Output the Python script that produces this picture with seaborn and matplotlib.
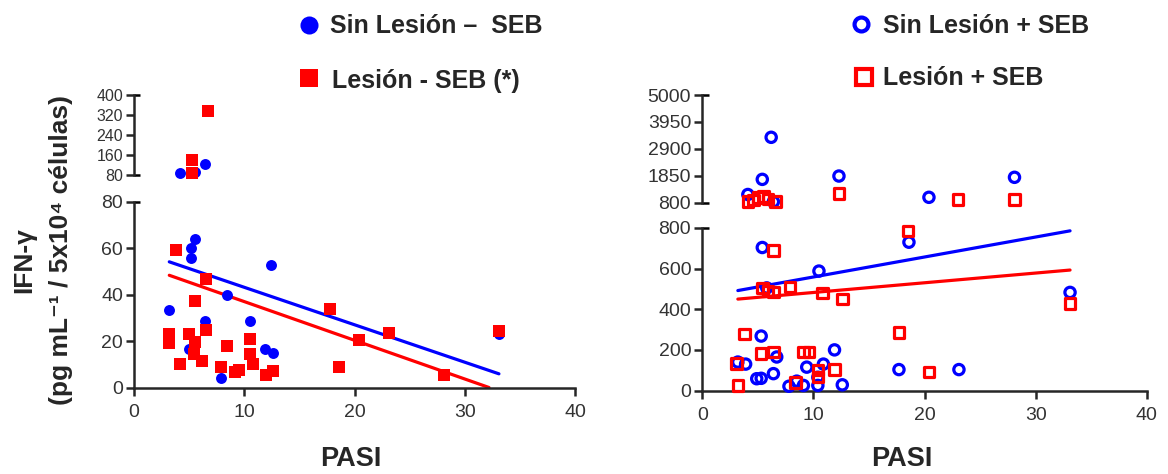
import matplotlib
matplotlib.use("Agg")
import matplotlib.pyplot as plt
import seaborn as sns
from matplotlib.lines import Line2D

# Sin Lesion - SEB (filled blue circles), left panel
left_blue_low_x = [3.2, 5.5, 5.2, 5.2, 12.4, 8.4, 6.4, 10.5, 5.0, 11.9, 12.6, 7.9, 33.1, 9.3]
left_blue_low_y = [33.5, 64, 60, 56, 53, 40, 28.5, 28.5, 16.5, 16.5, 15, 4, 23, 7]
left_blue_up_x = [4.2, 6.4, 5.5]
left_blue_up_y = [89, 126, 92]

# Lesion - SEB (filled red squares), left panel
left_red_low_x = [3.8, 6.5, 5.5, 17.8, 3.2, 3.2, 3.2, 5.0, 5.5, 5.4, 6.5, 4.2, 6.2, 7.9,
                  8.4, 9.2, 9.5, 10.5, 10.5, 10.8, 12.0, 12.6, 18.6, 20.4, 23.1, 28.1, 33.1]
left_red_low_y = [59.5, 47, 37.5, 34, 23, 21, 19, 23, 19.5, 14.5, 25, 10, 11.5, 9,
                  18, 6.5, 7.5, 21, 14.5, 10, 5.5, 7, 9, 20.5, 23.5, 5.5, 24.5]
left_red_up_x = [6.7, 5.3, 5.3]
left_red_up_y = [337, 139, 87]

# Sin Lesion + SEB (open blue circles), right panel
right_blue_low_x = [5.4, 10.5, 18.6, 33.1, 5.8, 5.3, 3.2, 3.9, 6.7, 4.9, 5.3, 6.4, 7.8, 8.5,
                    9.4, 9.1, 10.4, 10.9, 11.9, 12.6, 17.7, 23.1, 10.4]
right_blue_low_y = [704, 588, 730, 483, 505, 268, 140, 130, 165, 58, 60, 83, 21, 46,
                    115, 25, 25, 130, 200, 28, 103, 103, 65]
right_blue_up_x = [6.2, 5.4, 12.3, 28.1, 20.4, 4.1, 6.4]
right_blue_up_y = [3350, 1710, 1840, 1790, 1010, 1120, 840]

# Lesion + SEB (open red squares), right panel
right_red_low_x = [18.5, 6.4, 5.4, 5.9, 6.4, 7.9, 10.8, 12.6, 33.1, 3.8, 17.7, 3.1, 3.2, 5.3,
                   6.4, 8.4, 9.1, 9.6, 10.4, 10.4, 11.9, 20.4]
right_red_low_y = [785, 688, 505, 490, 485, 510, 480, 450, 428, 278, 285, 133, 25, 182,
                   190, 40, 190, 190, 100, 66, 104, 91]
right_red_up_x = [12.3, 23.0, 28.1, 4.1, 4.6, 5.0, 5.5, 5.9, 6.6]
right_red_up_y = [1170, 935, 935, 850, 900, 1000, 1050, 950, 850]

# regression lines (end points)
left_blue_fit_x = [3.2, 33.1]
left_blue_fit_y = [54.2, 5.9]
left_red_fit_x = [3.2, 32.2]
left_red_fit_y = [48.4, 0.0]
right_blue_fit_x = [3.2, 33.1]
right_blue_fit_y = [492, 786]
right_red_fit_x = [3.2, 33.1]
right_red_fit_y = [450, 593]

x_ticks = [0, 10, 20, 30, 40]
left_low_ticks = [0, 20, 40, 60, 80]
left_up_ticks = [80, 160, 240, 320, 400]
right_low_ticks = [0, 200, 400, 600, 800]
right_up_ticks = [800, 1850, 2900, 3950, 5000]

BLUE = "#0000ff"
RED = "#ff0000"
LW = 1.8

sns.set_style("ticks")
plt.rcParams["font.family"] = ["Liberation Sans", "DejaVu Sans"]

fig = plt.figure(figsize=(11.68, 4.74), dpi=100)
W, H = 1168.0, 474.0


def add_ax(left, bottom, right, top):
    return fig.add_axes([left / W, 1 - bottom / H, (right - left) / W, (bottom - top) / H])


def style_ax(ax, ylim, yticks, upper, label_size):
    ax.set_xlim(0, 40)
    ax.set_ylim(*ylim)
    ax.set_yticks(yticks)
    ax.set_yticklabels([str(t) for t in yticks])
    for s in ["top", "right"]:
        ax.spines[s].set_visible(False)
    ax.spines["left"].set_linewidth(LW)
    ax.spines["bottom"].set_linewidth(LW)
    ax.tick_params(axis="y", length=6, width=LW, pad=2, labelsize=label_size,
                   labelcolor="#333333", direction="out")
    if upper:
        ax.spines["bottom"].set_visible(False)
        ax.set_xticks([])
        ends = [0, 1]
    else:
        ax.set_xticks(x_ticks)
        ax.tick_params(axis="x", length=6, width=LW, pad=6, labelsize=14,
                       labelcolor="#333333", direction="out")
        ends = [1]
    # little caps at the broken ends of the y axis
    for e in ends:
        ax.plot([0, 0.014], [e, e], transform=ax.transAxes, color="black",
                lw=LW, clip_on=False, solid_capstyle="butt")
    ax.set_xlabel("")
    ax.set_ylabel("")
    ax.set_facecolor("none")


# ---- left panel ----
ax_ll = add_ax(134, 387.5, 575, 202)
ax_lu = add_ax(134, 175, 575, 95)

sns.lineplot(x=left_blue_fit_x, y=left_blue_fit_y, ax=ax_ll, color=BLUE, lw=2.3, zorder=1)
sns.lineplot(x=left_red_fit_x, y=left_red_fit_y, ax=ax_ll, color=RED, lw=2.3, zorder=1)
for ax, bx, by, rx, ry in [(ax_ll, left_blue_low_x, left_blue_low_y, left_red_low_x, left_red_low_y),
                           (ax_lu, left_blue_up_x, left_blue_up_y, left_red_up_x, left_red_up_y)]:
    sns.scatterplot(x=bx, y=by, ax=ax, marker="o", color=BLUE, s=62, linewidth=0,
                    clip_on=False, zorder=3)
    sns.scatterplot(x=rx, y=ry, ax=ax, marker="s", color=RED, s=75, linewidth=0,
                    clip_on=False, zorder=4)

style_ax(ax_ll, (0, 80), left_low_ticks, False, 14)
style_ax(ax_lu, (80, 400), left_up_ticks, True, 11.5)

# ---- right panel ----
ax_rl = add_ax(702.3, 390.5, 1146.7, 228)
ax_ru = add_ax(702.3, 202.7, 1146.7, 95)

sns.lineplot(x=right_blue_fit_x, y=right_blue_fit_y, ax=ax_rl, color=BLUE, lw=2.3, zorder=1)
sns.lineplot(x=right_red_fit_x, y=right_red_fit_y, ax=ax_rl, color=RED, lw=2.3, zorder=1)
for ax, bx, by, rx, ry in [(ax_rl, right_blue_low_x, right_blue_low_y, right_red_low_x, right_red_low_y),
                           (ax_ru, right_blue_up_x, right_blue_up_y, right_red_up_x, right_red_up_y)]:
    sns.scatterplot(x=bx, y=by, ax=ax, marker="o", facecolor="none", edgecolor=BLUE,
                    s=55, linewidth=2.3, clip_on=False, zorder=3)
    sns.scatterplot(x=rx, y=ry, ax=ax, marker="s", facecolor="none", edgecolor=RED,
                    s=58, linewidth=2.3, clip_on=False, zorder=4)

style_ax(ax_rl, (0, 800), right_low_ticks, False, 14)
style_ax(ax_ru, (800, 5000), right_up_ticks, True, 14)

# ---- axis titles ----
fig.text(351 / W, 1 - 466 / H, "PASI", ha="center", va="baseline", fontsize=19.5, fontweight="bold")
fig.text(902 / W, 1 - 466 / H, "PASI", ha="center", va="baseline", fontsize=19.5, fontweight="bold")
fig.text(24 / W, 1 - 260 / H, "IFN-γ", rotation=90, ha="center", va="center",
         fontsize=19, fontweight="bold")
fig.text(61 / W, 1 - 250 / H, "(pg mL⁻¹ / 5x10⁴ células)", rotation=90, ha="center",
         va="center", fontsize=19, fontweight="bold")

# ---- legends ----
legend_items = [
    (309, 25, 330, 33, "Sin Lesión –  SEB", dict(marker="o", markersize=13, markerfacecolor=BLUE,
                                                 markeredgecolor=BLUE, markeredgewidth=0)),
    (309, 78, 332, 88, "Lesión - SEB (*)", dict(marker="s", markersize=13.5, markerfacecolor=RED,
                                                markeredgecolor=RED, markeredgewidth=0)),
    (861, 24, 883, 33, "Sin Lesión + SEB", dict(marker="o", markersize=10, markerfacecolor="none",
                                                markeredgecolor=BLUE, markeredgewidth=3)),
    (864, 77, 883, 85, "Lesión + SEB", dict(marker="s", markersize=11, markerfacecolor="none",
                                            markeredgecolor=RED, markeredgewidth=3)),
]
for mx, my, tx, ty, label, mk in legend_items:
    fig.add_artist(Line2D([mx / W], [1 - my / H], transform=fig.transFigure, linestyle="none", **mk))
    fig.text(tx / W, 1 - ty / H, label, ha="left", va="baseline", fontsize=18, fontweight="bold")

fig.savefig("out.png", dpi=100)
